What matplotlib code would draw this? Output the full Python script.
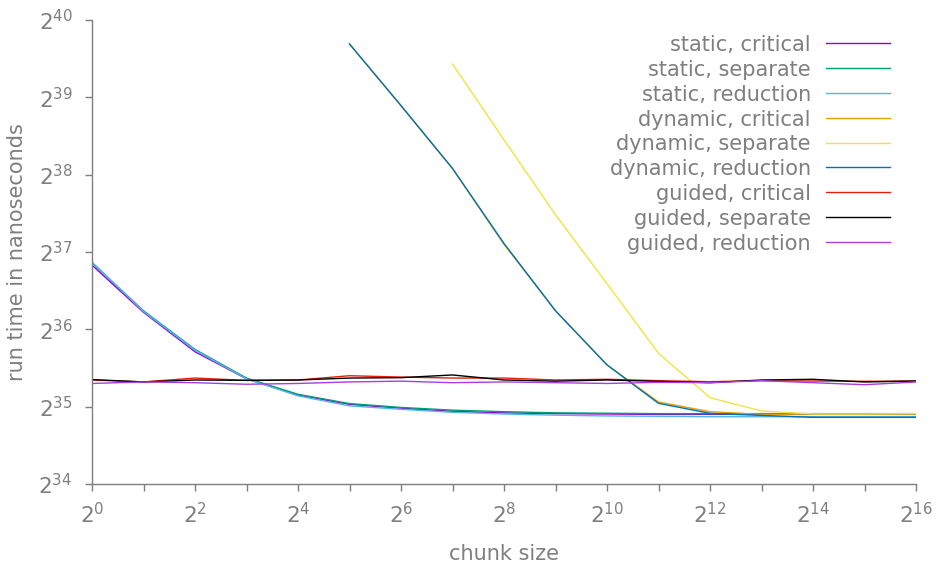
import numpy as np
import matplotlib
matplotlib.use("Agg")
import matplotlib.pyplot as plt
from matplotlib.lines import Line2D
from matplotlib.ticker import FixedLocator, FuncFormatter, NullLocator

# ---- data: log2 of chunk size and log2 of run time (ns) ----
x_all = list(range(0, 17))
x_dyn_cr = list(range(5, 17))
x_dyn_sep = list(range(7, 17))

static_critical = [36.83, 36.22, 35.71, 35.36, 35.15, 35.03, 34.98, 34.94, 34.92,
                   34.91, 34.905, 34.90, 34.90, 34.90, 34.90, 34.90, 34.90]
static_separate = [36.86, 36.24, 35.74, 35.37, 35.16, 35.04, 34.99, 34.955, 34.935,
                   34.92, 34.915, 34.91, 34.91, 34.91, 34.91, 34.91, 34.91]
static_reduction = [36.87, 36.23, 35.73, 35.36, 35.14, 35.01, 34.966, 34.927, 34.905,
                    34.89, 34.88, 34.875, 34.87, 34.87, 34.87, 34.87, 34.87]
dynamic_critical = [39.69, 38.89, 38.08, 37.10, 36.24, 35.54, 35.06, 34.935, 34.90,
                    34.905, 34.905, 34.905]
dynamic_separate = [39.43, 38.45, 37.48, 36.59, 35.69, 35.116, 34.944, 34.905,
                    34.905, 34.91]
dynamic_reduction = [39.69, 38.894, 38.08, 37.11, 36.24, 35.54, 35.043, 34.914,
                     34.887, 34.862, 34.862, 34.862]
guided_critical = [35.345, 35.32, 35.37, 35.34, 35.345, 35.40, 35.383, 35.37, 35.37,
                   35.345, 35.354, 35.336, 35.323, 35.336, 35.332, 35.328, 35.332]
guided_separate = [35.35, 35.32, 35.345, 35.34, 35.345, 35.37, 35.375, 35.41, 35.345,
                   35.33, 35.345, 35.328, 35.31, 35.345, 35.354, 35.319, 35.332]
guided_reduction = [35.30, 35.32, 35.31, 35.29, 35.30, 35.32, 35.33, 35.31, 35.32,
                    35.31, 35.30, 35.315, 35.31, 35.336, 35.31, 35.284, 35.319]

labels = ["static, critical", "static, separate", "static, reduction",
          "dynamic, critical", "dynamic, separate", "dynamic, reduction",
          "guided, critical", "guided, separate", "guided, reduction"]
series_x = [x_all, x_all, x_all, x_dyn_cr, x_dyn_sep, x_dyn_cr, x_all, x_all, x_all]
series_y = [static_critical, static_separate, static_reduction,
            dynamic_critical, dynamic_separate, dynamic_reduction,
            guided_critical, guided_separate, guided_reduction]
colors = ["#9400d3", "#009e73", "#56b4e9", "#e69f00", "#f0e442", "#0072b2",
          "#e51e10", "#000000", "#a83ee0"]

x_tick_exp = list(range(0, 17))
y_tick_exp = list(range(34, 41))

GRAY = "#7f7f7f"
plt.rcParams['font.family'] = ['DejaVu Sans']
plt.rcParams['mathtext.fontset'] = 'dejavusans'

fig = plt.figure(figsize=(9.39, 5.69), dpi=100)
ax = fig.add_axes([92/939, 1-484/569, (916-92)/939, (484-20)/569])

for xs, ys, c in zip(series_x, series_y, colors):
    ax.plot(2.0**np.array(xs), 2.0**np.array(ys), color=c, lw=1.0)

ax.set_xscale('log', base=2)
ax.set_yscale('log', base=2)
ax.set_xlim(2.0**0, 2.0**16)
ax.set_ylim(2.0**34, 2.0**40)

ax.xaxis.set_major_locator(FixedLocator([2.0**k for k in x_tick_exp]))
ax.xaxis.set_minor_locator(NullLocator())
ax.xaxis.set_major_formatter(FuncFormatter(
    lambda v, p: (r"$2^{%d}$" % round(np.log2(v))) if round(np.log2(v)) % 2 == 0 else ""))
ax.yaxis.set_major_locator(FixedLocator([2.0**k for k in y_tick_exp]))
ax.yaxis.set_minor_locator(NullLocator())
ax.yaxis.set_major_formatter(FuncFormatter(lambda v, p: r"$2^{%d}$" % round(np.log2(v))))

for s in ['top', 'right']:
    ax.spines[s].set_visible(False)
for s in ['left', 'bottom']:
    ax.spines[s].set_color(GRAY)
    ax.spines[s].set_linewidth(1.0)

ax.tick_params(axis='both', colors=GRAY, labelcolor=GRAY, labelsize=15.5,
               length=5, width=1.0, direction='out')
ax.tick_params(axis='y', pad=9)
ax.tick_params(axis='x', pad=8)

ax.set_xlabel("chunk size", color=GRAY, fontsize=15, labelpad=12)
ax.set_ylabel("run time in nanoseconds", color=GRAY, fontsize=15, labelpad=8)

# gnuplot-style legend: right-aligned text, line sample on the right
row_y = [43.3 + 24.8 * i for i in range(len(labels))]
for lab, c, yy in zip(labels, colors, row_y):
    fy = 1 - yy / 569
    fig.text(811/939, 1 - (yy + 8.0) / 569, lab, ha='right', va='baseline',
             color=GRAY, fontsize=15)
    fig.add_artist(Line2D([826/939, 890/939], [fy, fy], color=c, lw=1.0,
                          transform=fig.transFigure))

fig.savefig("out.png", dpi=100)
